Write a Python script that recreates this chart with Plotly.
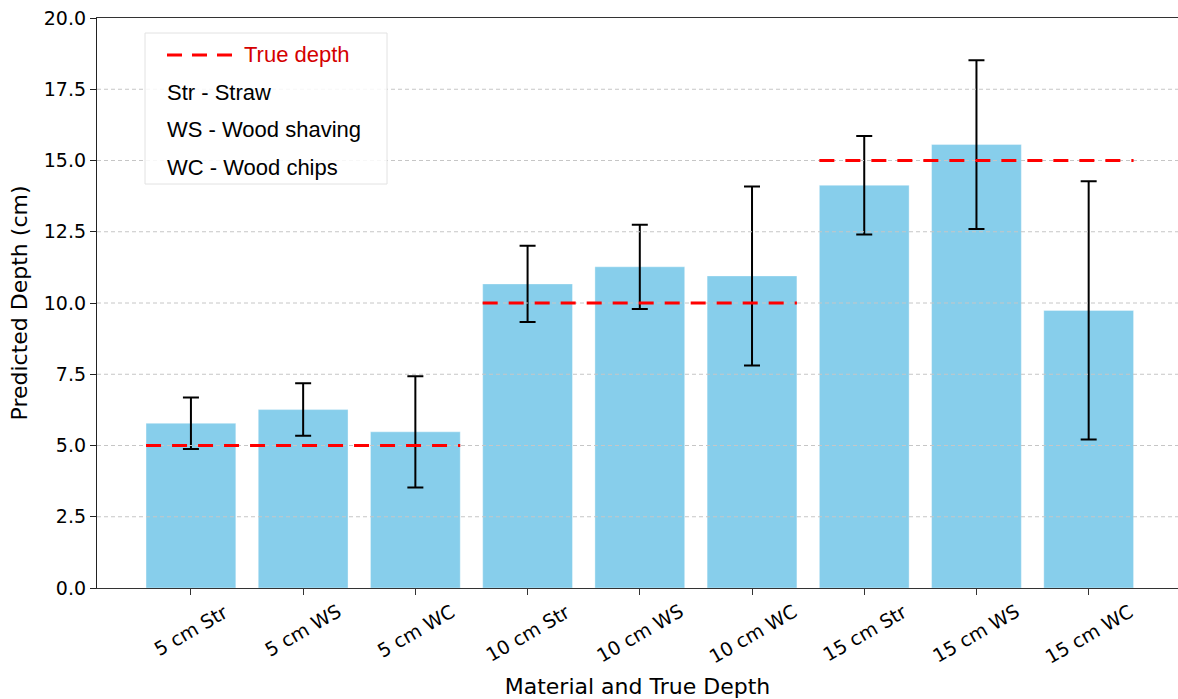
import plotly.graph_objects as go

categories = ["5 cm Str", "5 cm WS", "5 cm WC",
              "10 cm Str", "10 cm WS", "10 cm WC",
              "15 cm Str", "15 cm WS", "15 cm WC"]
mean_depth = [5.78, 6.26, 5.48, 10.67, 11.27, 10.95, 14.13, 15.56, 9.74]
std_depth = [0.90, 0.92, 1.95, 1.34, 1.48, 3.14, 1.73, 2.96, 4.53]
true_depths = [5, 10, 15]
group_size = 3
legend_notes = ["Str - Straw", "WS - Wood shaving", "WC - Wood chips"]
y_ticks = [0, 2.5, 5, 7.5, 10, 12.5, 15, 17.5, 20]

W, H = 1178, 699
ML, MR, MT, MB = 97, 0, 18, 111
BAR_W = 0.8
X_RANGE = [-0.837, 8.796]

x_pos = list(range(len(categories)))

fig = go.Figure()

fig.add_trace(go.Bar(
    x=x_pos, y=mean_depth, width=BAR_W,
    marker=dict(color="#87CEEB", line=dict(color="rgba(255,255,255,0.35)", width=1)),
    error_y=dict(type="data", array=std_depth, visible=True,
                 color="black", thickness=2, width=8),
    showlegend=False, hoverinfo="skip",
))

# dashed grid lines drawn over the bars (as in the reference)
for v in y_ticks[1:-1]:
    fig.add_trace(go.Scatter(
        x=X_RANGE, y=[v, v], mode="lines",
        line=dict(color="#c6c6c6", width=1, dash="4px,3px"),
        showlegend=False, hoverinfo="skip",
    ))

# true depth segments per group
for g, d in enumerate(true_depths):
    x0 = g * group_size - BAR_W / 2
    x1 = g * group_size + group_size - 1 + BAR_W / 2
    fig.add_trace(go.Scatter(
        x=[x0, x1], y=[d, d], mode="lines",
        line=dict(color="#ff0000", width=3, dash="15px,11px"),
        name="True depth", showlegend=False, hoverinfo="skip",
    ))

pw = W - ML - MR
ph = H - MT - MB


def px_x(p):
    return (p - ML) / pw


def px_y(p):
    return (H - MB - p) / ph


# x tick labels, rotated 30 degrees and centred under each tick
for i, cat in enumerate(categories):
    fig.add_annotation(xref="x", yref="paper", x=i, y=px_y(597),
                       text=cat, showarrow=False, textangle=-30,
                       xanchor="center", yanchor="top",
                       font=dict(family="DejaVu Sans", size=19, color="black"))

# legend box
fig.add_shape(type="rect", xref="paper", yref="paper",
              x0=px_x(145), x1=px_x(387), y0=px_y(184), y1=px_y(33),
              fillcolor="rgba(255,255,255,0.85)",
              line=dict(color="#e2e2e2", width=1), layer="above")
fig.add_shape(type="line", xref="paper", yref="paper",
              x0=px_x(167), x1=px_x(233), y0=px_y(55), y1=px_y(55),
              line=dict(color="#ff0000", width=3, dash="15px,10px"), layer="above")
fig.add_annotation(xref="paper", yref="paper", x=px_x(242), y=px_y(55),
                   text="True depth", showarrow=False, xanchor="left", yanchor="middle",
                   font=dict(family="Liberation Sans, Arial", size=22, color="#d40000"))
for i, note in enumerate(legend_notes):
    fig.add_annotation(xref="paper", yref="paper", x=px_x(165), y=px_y(93 + 37 * i),
                       text=note, showarrow=False, xanchor="left", yanchor="middle",
                       font=dict(family="Liberation Sans, Arial", size=22, color="black"))

fig.update_layout(
    width=W, height=H,
    margin=dict(l=ML, r=MR, t=MT, b=MB, autoexpand=False),
    plot_bgcolor="white", paper_bgcolor="white",
    font=dict(family="DejaVu Sans", size=19, color="black"),
    xaxis=dict(
        range=X_RANGE, tickmode="array", tickvals=x_pos, ticktext=categories,
        showticklabels=False,
        ticks="outside", ticklen=6, tickcolor="#333",
        showline=True, linecolor="#333", linewidth=1.3, mirror=True,
        showgrid=False, zeroline=False,
        title=dict(text="Material and True Depth", font=dict(size=22), standoff=84),
    ),
    yaxis=dict(
        range=[0, 20], tickmode="array", tickvals=y_ticks,
        ticktext=[f"{v:.1f}" for v in y_ticks],
        ticks="outside", ticklen=6, tickcolor="#222",
        showline=True, linecolor="#222", linewidth=1.3,
        showgrid=False, zeroline=False,
        tickfont=dict(family="DejaVu Sans", size=19),
        title=dict(text="Predicted Depth (cm)", font=dict(size=22), standoff=10),
    ),
)

fig.write_html(
    "out.html",
    config={"displayModeBar": False},
    post_script="document.body.style.margin='0px';document.body.style.overflow='hidden';",
)
